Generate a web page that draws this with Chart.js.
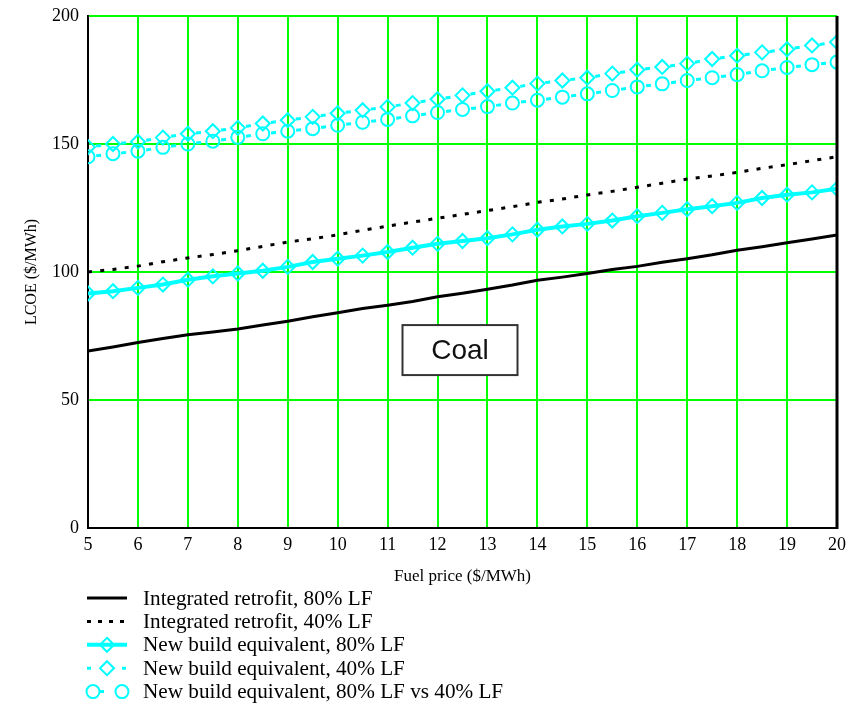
<!DOCTYPE html>
<html>
<head>
<meta charset="utf-8">
<title>Coal LCOE vs fuel price</title>
<script src="https://cdn.jsdelivr.net/npm/chart.js@4.4.1/dist/chart.umd.min.js"></script>
<style>
  html, body { margin: 0; padding: 0; background: #fff; }
  #wrap { width: 848px; height: 706px; }
</style>
</head>
<body>
<div id="wrap"><canvas id="lcoeChart"></canvas></div>
<script>
// Fuel price steps ($/MWh)
const fuelPrice = [5, 5.5, 6, 6.5, 7, 7.5, 8, 8.5, 9, 9.5, 10, 10.5, 11, 11.5, 12, 12.5,
                   13, 13.5, 14, 14.5, 15, 15.5, 16, 16.5, 17, 17.5, 18, 18.5, 19, 19.5, 20];

// LCOE ($/MWh) for each case
const retrofit80 = [69.1, 70.7, 72.5, 74, 75.5, 76.6, 77.7, 79.3, 80.8, 82.5, 84.1, 85.7, 87, 88.5, 90.3, 91.7,
                    93.3, 94.9, 96.8, 98, 99.4, 101, 102.2, 103.8, 105.2, 106.7, 108.5, 109.9, 111.4, 112.9, 114.5];
const retrofit40 = [100, 101, 102.3, 104, 105.5, 106.8, 108.3, 110, 111.7, 113, 114.5, 116.3, 117.9, 119.5, 121, 122.5,
                    124, 125.5, 127.2, 128.5, 130.1, 131.5, 133.1, 134.7, 136.3, 137.5, 138.9, 140.5, 141.9, 143.5, 145];
const newBuild80 = [91.6, 92.5, 93.8, 95.1, 97, 98.3, 99.4, 100.5, 102, 103.9, 105.2, 106.4, 107.8, 109.5, 111, 112.1,
                    113.2, 114.7, 116.5, 117.8, 118.8, 120.1, 121.8, 123.1, 124.5, 125.7, 127, 128.9, 130.2, 131.1, 132.5];
const newBuild40 = [148.8, 150, 150.9, 152.5, 154, 155, 156.3, 158, 159.3, 160.6, 162, 163.2, 164.5, 166, 167.5, 169,
                    170.6, 172, 173.6, 174.8, 175.9, 177.5, 179, 180.1, 181.4, 183.2, 184.5, 185.8, 187, 188.5, 189.8];
const newBuildVs = [145, 146.2, 147.2, 148.7, 150, 151.1, 152.6, 154, 155, 156, 157.3, 158.5, 159.6, 161, 162.3, 163.5,
                    164.6, 166, 167.1, 168.3, 169.6, 170.9, 172.3, 173.5, 174.8, 175.9, 177.1, 178.6, 179.9, 181, 182];

const seriesNames = [
  'Integrated retrofit, 80% LF',
  'Integrated retrofit, 40% LF',
  'New build equivalent, 80% LF',
  'New build equivalent, 40% LF',
  'New build equivalent, 80% LF vs 40% LF'
];

const CYAN = '#00ffff';
const GREEN = '#00ff00';
const SERIF = '"Liberation Serif", "DejaVu Serif", serif';

function pairs(values) {
  return fuelPrice.map((x, i) => ({ x: x, y: values[i] }));
}

// draws one marker shape at (x, y)
function drawMarker(ctx, style, x, y, r) {
  ctx.beginPath();
  if (style === 'rectRot') {
    ctx.moveTo(x, y - r);
    ctx.lineTo(x + r, y);
    ctx.lineTo(x, y + r);
    ctx.lineTo(x - r, y);
    ctx.closePath();
  } else {
    ctx.arc(x, y, r, 0, Math.PI * 2);
  }
  ctx.stroke();
}

// Legend under the x axis: sample line + marker, then label
const legendRows = {
  id: 'legendRows',
  afterDraw(chart) {
    const ctx = chart.ctx;
    const area = chart.chartArea;
    const x0 = area.left - 1, x1 = area.left + 39, textX = area.left + 55;
    chart.data.datasets.forEach((ds, i) => {
      const y = area.bottom + 70 + i * 23.4;
      ctx.save();
      ctx.strokeStyle = ds.borderColor;
      ctx.lineWidth = ds.borderWidth;
      ctx.setLineDash(ds.legendDash || ds.borderDash || []);
      ctx.lineDashOffset = ds.legendDashOffset || 0;
      ctx.beginPath();
      ctx.moveTo(x0, y);
      ctx.lineTo(x1, y);
      ctx.stroke();
      ctx.setLineDash([]);
      if (ds.pointRadius > 0) {
        ctx.lineWidth = ds.pointBorderWidth;
        ctx.strokeStyle = ds.pointBorderColor;
        if (ds.pointStyle === 'circle') {
          drawMarker(ctx, 'circle', x0 + 6, y, ds.pointRadius);
          drawMarker(ctx, 'circle', x1 - 5, y, ds.pointRadius);
        } else {
          drawMarker(ctx, ds.pointStyle, (x0 + x1) / 2, y, ds.pointRadius);
        }
      }
      ctx.fillStyle = '#000';
      ctx.font = '21.2px ' + SERIF;
      ctx.textBaseline = 'middle';
      ctx.textAlign = 'left';
      ctx.fillText(ds.label, textX, y + 1);
      ctx.restore();
    });
  }
};

// right frame edge and the "Coal" label box
const frameAndTag = {
  id: 'frameAndTag',
  afterDraw(chart) {
    const ctx = chart.ctx;
    const area = chart.chartArea;
    const xs = chart.scales.x, ys = chart.scales.y;
    ctx.save();
    ctx.strokeStyle = '#000';
    ctx.lineWidth = 3;
    ctx.beginPath();
    ctx.moveTo(area.right, area.top);
    ctx.lineTo(area.right, area.bottom + 1);
    ctx.stroke();

    const cx = xs.getPixelForValue(12.45);
    const cy = ys.getPixelForValue(69.5);
    const w = 115, h = 50;
    ctx.fillStyle = '#fff';
    ctx.fillRect(cx - w / 2, cy - h / 2, w, h);
    ctx.strokeStyle = '#333';
    ctx.lineWidth = 2;
    ctx.strokeRect(cx - w / 2, cy - h / 2, w, h);
    ctx.fillStyle = '#111';
    ctx.font = '28px "Liberation Sans", Arial, sans-serif';
    ctx.textAlign = 'center';
    ctx.textBaseline = 'middle';
    ctx.fillText('Coal', cx, cy + 1);
    ctx.restore();
  }
};

document.addEventListener('DOMContentLoaded', function () {
  const ctx = document.getElementById('lcoeChart').getContext('2d');

  new Chart(ctx, {
    type: 'line',
    data: {
      datasets: [
        {
          label: seriesNames[0],
          data: pairs(retrofit80),
          borderColor: '#000',
          borderWidth: 3,
          pointRadius: 0
        },
        {
          label: seriesNames[1],
          data: pairs(retrofit40),
          borderColor: '#000',
          borderWidth: 3,
          borderDash: [4, 8.3],
          pointRadius: 0,
          legendDash: [4, 7]
        },
        {
          label: seriesNames[2],
          data: pairs(newBuild80),
          borderColor: CYAN,
          borderWidth: 4,
          pointStyle: 'rectRot',
          pointRadius: 7,
          pointBorderWidth: 2,
          pointBorderColor: CYAN,
          pointBackgroundColor: 'rgba(0,0,0,0)'
        },
        {
          label: seriesNames[3],
          data: pairs(newBuild40),
          borderColor: CYAN,
          borderWidth: 3,
          borderDash: [5, 20.2],
          borderDashOffset: 17,
          pointStyle: 'rectRot',
          pointRadius: 7,
          pointBorderWidth: 2,
          pointBorderColor: CYAN,
          pointBackgroundColor: 'rgba(0,0,0,0)',
          legendDash: [4, 31, 4],
          legendDashOffset: 0
        },
        {
          label: seriesNames[4],
          data: pairs(newBuildVs),
          borderColor: CYAN,
          borderWidth: 3,
          borderDash: [5, 20.2],
          borderDashOffset: 17,
          pointStyle: 'circle',
          pointRadius: 6.5,
          pointBorderWidth: 2,
          pointBorderColor: CYAN,
          pointBackgroundColor: 'rgba(0,0,0,0)',
          legendDash: [0, 12, 5, 40]
        }
      ]
    },
    options: {
      responsive: true,
      maintainAspectRatio: false,
      animation: false,
      layout: { padding: { top: 16, right: 11, bottom: 118, left: 0 } },
      plugins: {
        legend: { display: false },
        tooltip: { enabled: false }
      },
      scales: {
        x: {
          type: 'linear',
          min: 5,
          max: 20,
          afterFit: function (scale) {
            scale.height = 60;
            scale.paddingLeft = 0;
            scale.paddingRight = 0;
          },
          ticks: {
            stepSize: 1,
            padding: 6,
            color: '#000',
            font: { family: SERIF, size: 18 }
          },
          grid: { color: GREEN, lineWidth: 2, drawTicks: false },
          border: { color: '#000', width: 2 },
          title: {
            display: true,
            text: 'Fuel price ($/MWh)',
            color: '#000',
            font: { family: SERIF, size: 17 },
            padding: { top: 0, bottom: 1 }
          }
        },
        y: {
          min: 0,
          max: 200,
          afterFit: function (scale) {
            scale.width = 88;
            scale.paddingTop = 0;
            scale.paddingBottom = 0;
          },
          ticks: {
            stepSize: 50,
            padding: 9,
            color: '#000',
            font: { family: SERIF, size: 18 }
          },
          grid: { color: GREEN, lineWidth: 2, drawTicks: false },
          border: { color: '#000', width: 2 },
          title: {
            display: true,
            text: 'LCOE ($/MWh)',
            color: '#000',
            font: { family: SERIF, size: 16 },
            padding: { top: 22, bottom: 0 }
          }
        }
      }
    },
    plugins: [legendRows, frameAndTag]
  });
});
</script>
</body>
</html>
